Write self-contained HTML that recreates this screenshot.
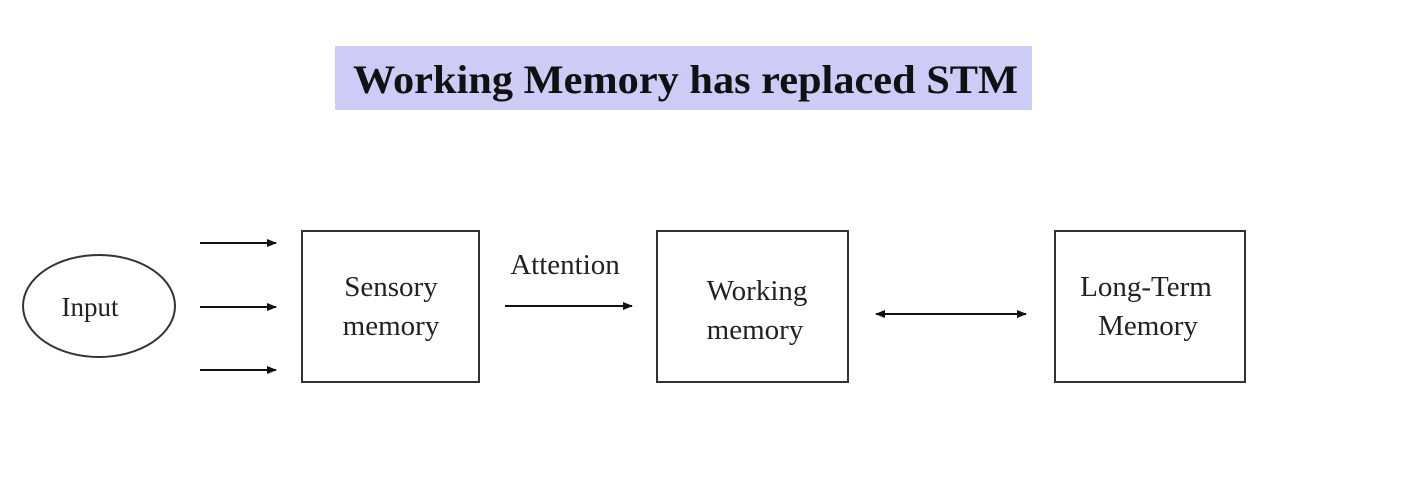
<!DOCTYPE html>
<html><head><style>body{margin:0;background:#fff}svg{display:block}</style></head><body>
<svg width="1402" height="482" xmlns="http://www.w3.org/2000/svg">
<defs><marker id="a" markerWidth="10" markerHeight="8" refX="9" refY="4" orient="auto-start-reverse" markerUnits="userSpaceOnUse"><path d="M0,0 L10,4 L0,8 z" fill="#111"/></marker></defs>
<rect x="335" y="46" width="697" height="64" fill="#ccccf6"/>
<text x="353" y="93" textLength="665" lengthAdjust="spacingAndGlyphs" font-family="Liberation Serif" font-weight="bold" font-size="40" fill="#111">Working Memory has replaced STM</text>
<g stroke="#333" stroke-width="2" fill="none">
<ellipse cx="99" cy="306" rx="76" ry="51"/>
<rect x="302" y="231" width="177" height="151"/>
<rect x="657" y="231" width="191" height="151"/>
<rect x="1055" y="231" width="190" height="151"/>
</g>
<g stroke="#111" stroke-width="2" marker-end="url(#a)">
<line x1="200" y1="243" x2="276" y2="243"/>
<line x1="200" y1="307" x2="276" y2="307"/>
<line x1="200" y1="370" x2="276" y2="370"/>
<line x1="505" y1="306" x2="632" y2="306"/>
<line x1="876" y1="314" x2="1026" y2="314" marker-start="url(#a)"/>
</g>
<g font-family="Liberation Serif" font-size="29" fill="#222" text-anchor="middle">
<text x="90" y="316" font-size="27">Input</text>
<text x="391" y="296">Sensory</text><text x="391" y="335">memory</text>
<text x="565" y="274">Attention</text>
<text x="757" y="300">Working</text><text x="755" y="339">memory</text>
<text x="1146" y="296">Long-Term</text><text x="1148" y="335">Memory</text>
</g>
</svg>
</body></html>
